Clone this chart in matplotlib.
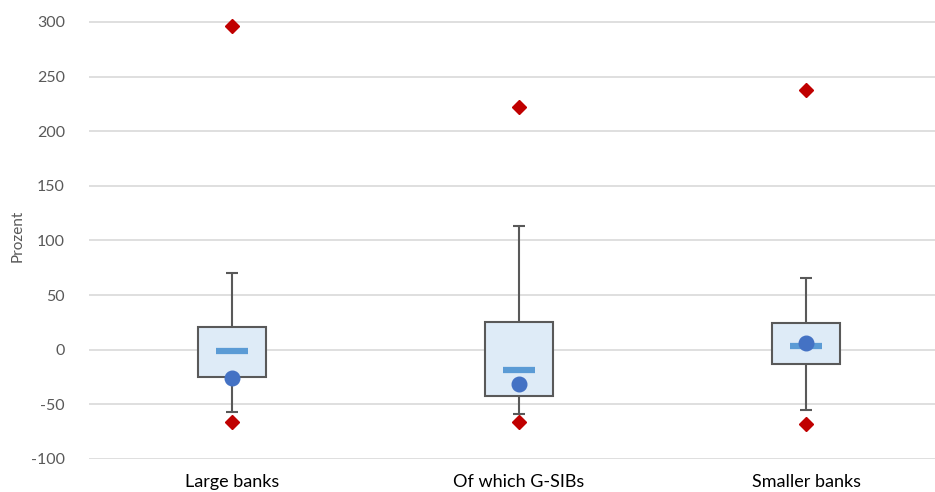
import matplotlib.pyplot as plt

categories = ["Large banks", "Of which G-SIBs", "Smaller banks"]
q1 = [-25, -42.5, -13.5]
q3 = [20.5, 25, 24]
median = [-1.5, -19, 3.5]
mean = [-26, -31, 5.7]
whisker_low = [-57, -59, -55.5]
whisker_high = [70, 113, 66]
minimum = [-66, -66, -68]
maximum = [296, 222, 238]
yticks = [-100, -50, 0, 50, 100, 150, 200, 250, 300]

plt.rcParams['font.family'] = ['Lato', 'DejaVu Sans']

fig = plt.figure(figsize=(9.35, 4.92), dpi=100)
ax = fig.add_axes([88.5 / 935, 1 - 459 / 492, 861 / 935, 459 / 492])

x = list(range(len(categories)))
grey = "#595959"

ax.bar(x, [b - a for a, b in zip(q1, q3)], bottom=q1, width=0.237,
       color="#DEEBF7", edgecolor=grey, linewidth=1.5, zorder=3)
ax.vlines(x, q3, whisker_high, color=grey, lw=1.5, zorder=2)
ax.vlines(x, whisker_low, q1, color=grey, lw=1.5, zorder=2)
ax.hlines(whisker_high, [i - 0.02 for i in x], [i + 0.02 for i in x], color=grey, lw=1.5, zorder=2)
ax.hlines(whisker_low, [i - 0.02 for i in x], [i + 0.02 for i in x], color=grey, lw=1.5, zorder=2)
ax.hlines(median, [i - 0.057 for i in x], [i + 0.057 for i in x], color="#5B9BD5", lw=4.5, zorder=4)
ax.plot(x, mean, "o", color="#4472C4", ms=10.5, zorder=5, linestyle="none")
ax.plot(x, minimum, "D", color="#C00000", ms=7, zorder=5, linestyle="none", clip_on=False)
ax.plot(x, maximum, "D", color="#C00000", ms=7, zorder=5, linestyle="none", clip_on=False)

ax.set_xlim(-0.5, 2.5)
ax.set_ylim(-100, 320)
ax.set_yticks(yticks)
ax.set_yticklabels([str(v) for v in yticks])
ax.set_xticks(x)
ax.set_xticklabels(categories, fontsize=13, color="#000000")
ax.yaxis.grid(True, color="#D9D9D9", lw=1.2, zorder=0)
ax.set_axisbelow(True)
for s in ax.spines.values():
    s.set_visible(False)
ax.tick_params(axis="both", length=0)
ax.tick_params(axis="y", labelsize=11.5, labelcolor=grey, pad=17)
ax.tick_params(axis="x", pad=11)
fig.text(18 / 935, 1 - 236 / 492, "Prozent", rotation=90, fontsize=11,
         color=grey, ha="center", va="center")

fig.savefig("out.png", dpi=100)
